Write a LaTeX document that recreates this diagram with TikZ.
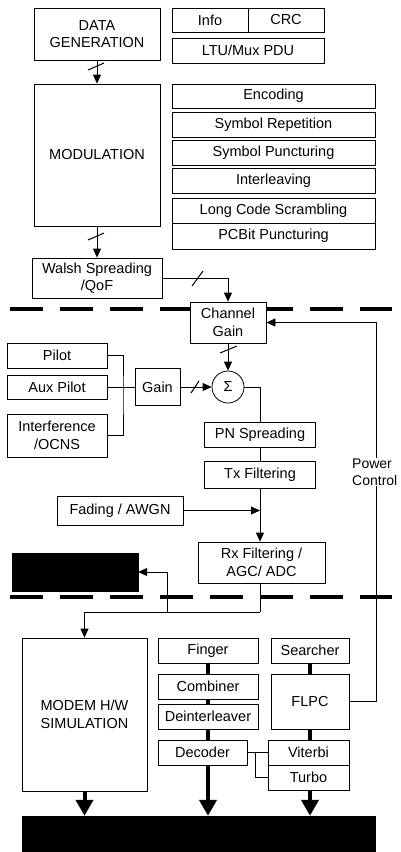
\documentclass[tikz,border=0pt]{standalone}
\usepackage{fontspec}
\setmainfont{Liberation Sans}
\usetikzlibrary{arrows.meta}
\begin{document}
\begin{tikzpicture}[x=1pt,y=-1pt,
  box/.style={draw,line width=0.8pt,fill=white,inner sep=0pt,align=center,font=\fontsize{14.5}{17.5}\selectfont},
  blk/.style={draw,fill=black,inner sep=0pt},
  conn/.style={line width=0.8pt},
  arr/.style={conn,-{Triangle[length=9pt,width=8pt]}},
  heavy/.style={line width=4pt},
  bigarr/.style={line width=4pt,-{Triangle[length=16pt,width=17pt]}},
  sep/.style={line width=3.5pt,dash pattern=on 33pt off 17pt},
  slashmark/.style={line width=1pt}
]
\useasboundingbox (0,0) rectangle (400,852);
% separators
\draw[sep] (10,309) -- (392,309);
\draw[sep] (10,597) -- (392,597);
% transmitter
\node[box,minimum width=126,minimum height=52] (dg) at (97,34) {DATA\\GENERATION};
\node[box,minimum width=76,minimum height=24] (info) at (210,20) {Info};
\node[box,minimum width=76,minimum height=24] (crc) at (286,20) {CRC};
\node[box,minimum width=152,minimum height=25] (ltu) at (248,50.5) {LTU/Mux PDU};
\node[box,minimum width=126,minimum height=142] (mod) at (97,155) {MODULATION};
\node[box,minimum width=203,minimum height=24] (enc) at (273.5,96) {Encoding};
\node[box,minimum width=203,minimum height=25] (rep) at (273.5,124.5) {Symbol Repetition};
\node[box,minimum width=203,minimum height=25] (punc) at (273.5,152.5) {Symbol Puncturing};
\node[box,minimum width=203,minimum height=25] (intl) at (273.5,180.5) {Interleaving};
\node[box,minimum width=203,minimum height=25] (lcs) at (273.5,210.5) {Long Code Scrambling};
\node[box,minimum width=203,minimum height=26] (pcb) at (273.5,236) {PCBit Puncturing};
\node[box,minimum width=130,minimum height=40] (walsh) at (97,278) {Walsh Spreading\\/QoF};
% channel
\node[box,minimum width=76,minimum height=41] (cg) at (228,322.5) {Channel\\Gain};
\node[box,circle,minimum size=32] (sum) at (228,387) {Σ};
\node[box,minimum width=100,minimum height=25] (pilot) at (57,355.5) {Pilot};
\node[box,minimum width=100,minimum height=24] (aux) at (57,387) {Aux Pilot};
\node[box,minimum width=100,minimum height=43] (intf) at (57,435.5) {Interference\\/OCNS};
\node[box,minimum width=45,minimum height=37] (gain) at (157.5,387) {Gain};
\node[box,minimum width=111,minimum height=25] (pn) at (260,434.5) {PN Spreading};
\node[box,minimum width=111,minimum height=27] (tx) at (260,474.5) {Tx Filtering};
\node[box,minimum width=126,minimum height=29] (fad) at (120,510.5) {Fading / AWGN};
\node[box,minimum width=127,minimum height=41] (rx) at (261.5,562.5) {Rx Filtering /\\AGC/ ADC};
\node[blk,minimum width=126,minimum height=38] (blk1) at (75,572) {};
% receiver
\node[box,minimum width=125,minimum height=153] (modem) at (84.5,714.5) {MODEM H/W\\SIMULATION};
\node[box,minimum width=100,minimum height=25] (finger) at (208,650.5) {Finger};
\node[box,minimum width=100,minimum height=25] (comb) at (208,686.5) {Combiner};
\node[box,minimum width=100,minimum height=25] (deint) at (208,716.5) {Deinterleaver};
\node[box,minimum width=89,minimum height=25] (dec) at (202.5,752.5) {Decoder};
\node[box,minimum width=78,minimum height=25] (search) at (310,650.5) {Searcher};
\node[box,minimum width=78,minimum height=55] (flpc) at (310,701.5) {FLPC};
\node[box,minimum width=81,minimum height=25] (vit) at (308.5,752.5) {Viterbi};
\node[box,minimum width=81,minimum height=25] (turbo) at (308.5,777.5) {Turbo};
\node[blk,minimum width=353,minimum height=36] (blk2) at (198.5,834) {};
% connectors
\draw[arr] (dg.south) -- (mod.north);
\draw[slashmark] (88,70) -- (104,63);
\draw[arr] (mod.south) -- (walsh.north);
\draw[slashmark] (88,240) -- (104,233);
\draw[arr] (walsh.east) -| (cg.north);
\draw[slashmark] (192,286) -- (203,271);
\draw[arr] (cg.south) -- (sum.north);
\draw[slashmark] (220,353) -- (237,346);
\draw[arr] (gain.east) -- (sum.west);
\draw[slashmark] (191,393) -- (199,381);
\coordinate (bus) at (123,395);
\draw[conn] (pilot.east) -| (bus) |- (intf.east);
\draw[conn] (aux.east) -- (gain.west);
\draw[conn] (sum.east) -| (pn.north);
\draw[conn] (pn.south) -- (tx.north);
\draw[arr] (tx.south) -- (tx.south |- rx.north);
\draw[arr] (fad.east) -- (fad.east -| tx.south);
\coordinate (rxd) at (260,612);
\coordinate (br) at (167,612);
\draw[conn] (tx.south |- rx.south) -- (rxd);
\draw[arr] (rxd) -| (modem.north);
\draw[arr] (br) |- (blk1.east);
\coordinate (pc) at (376,701.5);
\draw[conn] (flpc.east) -- (pc);
\draw[arr] (pc) |- (cg.east);
\node[fill=white,inner sep=1pt,align=left,anchor=west,font=\fontsize{14}{17}\selectfont] (pwr) at (351,472) {Power\\Control};
\draw[heavy] (finger.south) -- (comb.north);
\draw[heavy] (comb.south) -- (deint.north);
\draw[heavy] (deint.south) -- (deint.south |- dec.north);
\draw[heavy] (search.south) -- (flpc.north);
\draw[heavy] (flpc.south) -- (flpc.south |- vit.north);
\draw[conn] (dec.east) -- (vit.west);
\coordinate (dj) at (255,752.5);
\draw[conn] (dj) |- (turbo.west);
\draw[bigarr] (modem.south) -- (modem.south |- blk2.north);
\draw[bigarr] (deint.south |- dec.south) -- (deint.south |- blk2.north);
\draw[bigarr] (flpc.south |- turbo.south) -- (flpc.south |- blk2.north);
\end{tikzpicture}
\end{document}
